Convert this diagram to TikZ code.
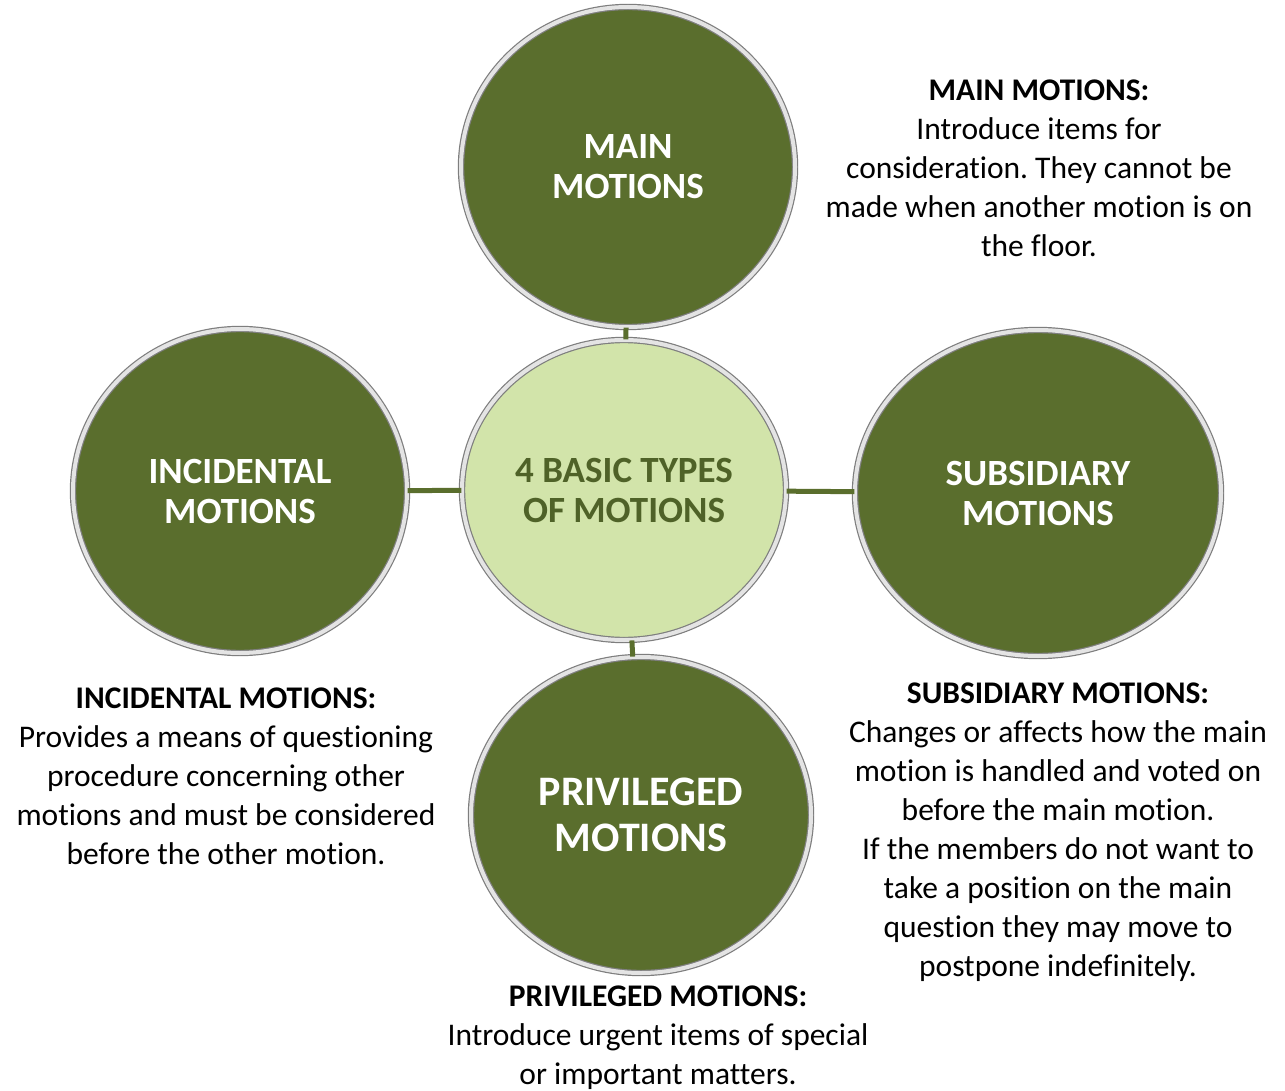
\documentclass[tikz,border=0pt]{standalone}
\usepackage{fontspec}
\setmainfont{Carlito}[Ligatures={NoCommon,NoContextual}]
\frenchspacing
\usetikzlibrary{shapes.geometric}
\definecolor{olive}{HTML}{5A6E2D}
\definecolor{olivetext}{HTML}{4F6228}
\definecolor{palegreen}{HTML}{D2E4AA}
\definecolor{rimgray}{HTML}{7E7E7E}
\definecolor{rimlight}{HTML}{E4E4E4}
\tikzset{
  x=1pt, y=-1pt,
  bubble/.style={ellipse, inner sep=0pt, draw=rimgray, line width=1.2pt,
    double=rimlight, double distance=4pt, align=center,
    font=\bfseries\fontsize{37}{40}\selectfont},
  darkbubble/.style={bubble, fill=olive, text=white},
  hub/.style={bubble, fill=palegreen, text=olivetext},
  link/.style={draw=olive, line width=5pt},
  note/.style={align=center, inner sep=0pt, text=black,
    font=\fontsize{31.5}{39}\selectfont},
}
\begin{document}
\begin{tikzpicture}
\useasboundingbox (0,0) rectangle (1285,1091);
\fill[white] (0,0) rectangle (1285,1091);

% circles
\node[hub, minimum width=324pt, minimum height=300pt] (hub) at (624,490)
  {4 BASIC TYPES\\OF MOTIONS};
\node[darkbubble, minimum width=334pt, minimum height=320pt] (main) at (628,167)
  {MAIN\\MOTIONS};
\node[darkbubble, minimum width=334pt, minimum height=324pt] (inc) at (240,491)
  {INCIDENTAL\\MOTIONS};
\node[darkbubble, minimum width=366pt, minimum height=326pt] (sub) at (1038,493)
  {SUBSIDIARY\\MOTIONS};
\node[darkbubble, minimum width=340pt, minimum height=316pt,
  font=\bfseries\fontsize{42}{46}\selectfont] (priv) at (641,815)
  {PRIVILEGED\\MOTIONS};

% connectors, centre to centre, clipped at the rims
\draw[link] (hub) -- (main);
\draw[link] (hub) -- (inc);
\draw[link] (hub) -- (sub);
\draw[link] (hub) -- (priv);

% descriptions
\node[note] (mainnote) at (1039,168)
  {\textbf{MAIN MOTIONS:}\\Introduce items for\\consideration. They cannot be\\made when another motion is on\\the floor.};
\node[note] (incnote) at (226,776)
  {\textbf{INCIDENTAL MOTIONS:}\\Provides a means of questioning\\procedure concerning other\\motions and must be considered\\before the other motion.};
\node[note] (subnote) at (1058,832)
  {\textbf{SUBSIDIARY MOTIONS:}\\Changes or affects how the main\\motion is handled and voted on\\before the main motion.\\If the members do not want to\\take a position on the main\\question they may move to\\postpone indefinitely.};
\node[note] (privnote) at (658,1038)
  {\textbf{PRIVILEGED MOTIONS:}\\Introduce urgent items of special\\or important matters.};
\end{tikzpicture}
\end{document}
